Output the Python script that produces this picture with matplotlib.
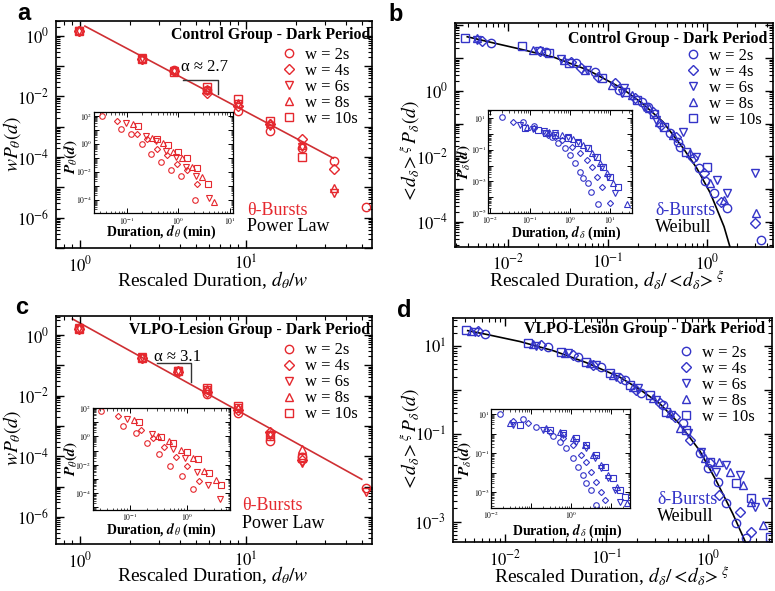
import numpy as np
import matplotlib
matplotlib.use("Agg")
import matplotlib.pyplot as plt
from matplotlib.ticker import FixedLocator, FuncFormatter, LogLocator, NullFormatter

plt.rcParams["font.family"] = "serif"
plt.rcParams["font.serif"] = ["Liberation Serif", "DejaVu Serif"]
plt.rcParams["mathtext.fontset"] = "stix"

RED = "#e5282e"
RED_LINE = "#cf2f33"
BLUE = "#3434c8"

w_labels = ["w = 2s", "w = 4s", "w = 6s", "w = 8s", "w = 10s"]
markers = ["o", "D", "v", "^", "s"]

# ---- panel a: theta bursts, control group (rescaled) ----
a_bins = [0.98, 2.35, 3.7, 5.8, 9.0, 13.9, 21.8, 33.9, 52.8]
a_y = [
    [1.5, 0.17, 0.075, 0.016, 0.0032, 7.4e-4, 2.0e-4, 7.7e-5, 2.3e-6],
    [1.45, 0.17, 0.068, 0.013, 0.0050, 1.2e-3, 4.0e-4, 4.1e-5],
    [1.5, 0.18, 0.070, 0.015, 0.0055, 1.1e-3, 2.2e-4, 6.7e-6],
    [1.55, 0.18, 0.072, 0.017, 0.0063, 1.3e-3, 2.6e-4, 9.3e-6],
    [1.4, 0.17, 0.065, 0.020, 0.0081, 1.5e-3, 1.04e-4],
]
a_fit_x = [1.07, 33.6]
a_fit_y = [2.1, 9.2e-5]
# inset a (raw durations, minutes)
a_in_x = [
    [0.033, 0.078, 0.123, 0.193, 0.30, 0.46, 0.73, 1.13, 2.1],
    [0.065, 0.157, 0.247, 0.387, 0.60, 0.93, 1.45, 2.26],
    [0.098, 0.235, 0.37, 0.58, 0.90, 1.39, 2.18, 3.9],
    [0.131, 0.313, 0.493, 0.773, 1.2, 1.85, 2.9, 5.0],
    [0.163, 0.39, 0.617, 0.967, 1.5, 2.32, 3.8],
]
a_in_y = [
    [95, 10.7, 4.7, 1.0, 0.2, 0.047, 0.0126, 0.0049, 9e-5],
    [46, 5.4, 2.1, 0.41, 0.158, 0.038, 0.0126, 1.3e-3],
    [31.5, 3.8, 1.47, 0.315, 0.116, 0.023, 4.6e-3, 1.2e-4],
    [24.4, 2.8, 1.13, 0.27, 0.099, 0.020, 4.1e-3, 7e-5],
    [17.6, 2.1, 0.82, 0.25, 0.10, 0.019, 1.3e-3],
]

# ---- panel c: theta bursts, VLPO-lesion group ----
c_bins = [0.98, 2.35, 3.9, 5.8, 9.0, 13.9, 21.8, 52.8]
c_y = [
    [1.66, 0.178, 0.065, 0.011, 0.0026, 3.2e-4, 9.5e-5, 8.7e-6],
    [1.6, 0.17, 0.062, 0.013, 0.0033, 6.4e-4, 7.5e-5],
    [1.65, 0.18, 0.066, 0.015, 0.0038, 5.0e-4, 5.8e-5, 6.4e-6],
    [1.7, 0.18, 0.068, 0.017, 0.0040, 5.5e-4, 1.7e-4],
    [1.6, 0.17, 0.064, 0.018, 0.0045, 4.5e-4, 8.5e-5],
]
c_fit_x = [0.90, 49.8]
c_fit_y = [3.37, 1.73e-5]
c_in_x = [
    [0.031, 0.076, 0.126, 0.2, 0.325, 0.51, 0.84, 1.31],
    [0.061, 0.156, 0.251, 0.398, 0.64, 1.03, 1.65],
    [0.0897, 0.241, 0.58, 0.93, 1.5, 2.4, 3.87],
    [0.118, 0.308, 0.493, 0.79, 1.28, 2.02, 3.25],
    [0.146, 0.352, 0.58, 1.0, 1.56, 2.47, 4.03],
]
c_in_y = [
    [61, 5.7, 1.65, 0.33, 0.057, 0.0079, 1.6e-3, 2e-4],
    [27, 2.7, 0.81, 0.19, 0.037, 8.3e-3, 7.6e-4],
    [16.8, 1.4, 0.123, 0.032, 3.2e-3, 3.8e-4, 3.9e-5],
    [14.3, 1.12, 0.5, 0.115, 0.029, 3.6e-3, 8.5e-4],
    [10.8, 0.86, 0.36, 0.083, 0.025, 2.5e-3, 3.8e-4],
]

# ---- panel b: delta bursts, control group ----
b_x = [
    [0.0067, 0.0238, 0.0483, 0.0744, 0.129, 0.224, 0.252, 0.42, 0.51, 0.53, 0.82, 0.96, 1.17, 1.6, 3.5],
    [0.0055, 0.021, 0.043, 0.0544, 0.0808, 0.119, 0.19, 0.284, 0.345, 0.49, 0.73, 0.93, 1.37, 3.0],
    [0.0049, 0.0203, 0.034, 0.0626, 0.14, 0.145, 0.233, 0.307, 0.577, 0.78, 1.27, 1.6, 3.0],
    [0.0049, 0.018, 0.0366, 0.0588, 0.11, 0.177, 0.262, 0.33, 0.45, 0.67, 1.08, 1.48, 3.1],
    [0.00373, 0.0137, 0.0257, 0.0413, 0.0874, 0.151, 0.199, 0.295, 0.37, 0.62, 1.0],
]
b_y = [
    [29, 15.5, 7.2, 3.8, 1.05, 0.46, 0.31, 0.05, 0.028, 0.0195, 4.3e-3, 1.7e-3, 7.4e-4, 2.6e-4, 2.8e-5],
    [33.6, 16, 7.7, 4.8, 2.7, 1.7, 0.585, 0.23, 0.09, 0.039, 8.6e-3, 3e-3, 4.1e-4, 8.9e-5],
    [36, 16.3, 9.1, 4.3, 0.83, 1.18, 0.325, 0.127, 0.056, 9.6e-3, 1.9e-3, 7.4e-4, 3.0e-3],
    [40, 17.5, 8.6, 4.3, 1.5, 0.74, 0.29, 0.113, 0.044, 0.0122, 1.5e-3, 4.6e-4, 1.8e-4],
    [40, 23, 14.5, 6.9, 2.4, 0.93, 0.52, 0.2, 0.08, 0.0137, 4.8e-3],
]
b_fit_x = [0.00389, 0.00702, 0.0132, 0.029, 0.0636, 0.14, 0.224, 0.36, 0.577, 0.789, 1.08, 1.48, 1.73]
b_fit_y = [44.6, 29.2, 18.8, 10.5, 4.28, 1.18, 0.41, 0.113, 0.0174, 4.3e-3, 7.4e-4, 7.1e-5, 1.4e-5]
b_in_x = [
    [0.0196, 0.068, 0.126, 0.237, 0.348, 0.51, 0.75, 1.0, 1.33, 1.78, 2.15, 2.87, 3.35, 4.9],
    [0.038, 0.126, 0.287, 0.42, 0.62, 1.1, 1.78, 2.61, 3.48, 4.64, 6.2, 10],
    [0.056, 0.12, 0.22, 0.42, 0.91, 1.61, 2.61, 4.2, 6.2, 9.1, 13.3],
    [0.083, 0.29, 0.62, 1.21, 2.15, 3.48, 5.6, 8.3, 12.1, 26],
    [0.075, 0.16, 0.25, 0.42, 0.91, 1.61, 2.87, 4.64, 6.8, 10, 16.2],
]
b_in_y = [
    [11.5, 6.1, 3.2, 1.11, 0.62, 0.28, 0.124, 0.047, 0.0139, 4.1e-3, 1.55e-3, 7.4e-4, 2.2e-4, 3.5e-5],
    [6.1, 2.5, 0.87, 0.62, 0.42, 0.16, 0.06, 0.0226, 8.5e-3, 1.96e-3, 4.6e-4, 4.4e-5],
    [3.76, 2.2, 1.5, 1.11, 0.68, 0.33, 0.124, 0.036, 8.5e-3, 1.96e-3, 1.7e-4],
    [2.7, 1.4, 0.87, 0.47, 0.2, 0.06, 0.0139, 3.2e-3, 7.4e-4, 3.6e-5],
    [2.3, 1.8, 1.2, 0.87, 0.54, 0.28, 0.124, 0.036, 8.5e-3, 1.96e-3, 4.6e-4],
]

# ---- panel d: delta bursts, VLPO-lesion group ----
d_x = [
    [0.0063, 0.02655, 0.0524, 0.0889, 0.151, 0.22, 0.36, 0.567, 0.828, 1.0, 1.26, 1.51, 1.9, 2.38],
    [0.00542, 0.0228, 0.0468, 0.0736, 0.135, 0.197, 0.334, 0.47, 0.66, 1.04, 1.30, 2.05, 2.67],
    [0.00503, 0.0201, 0.0418, 0.0794, 0.125, 0.204, 0.31, 0.435, 0.635, 0.859, 1.21, 1.51, 2.05, 2.88, 3.75],
    [0.00466, 0.0189, 0.0387, 0.0682, 0.1159, 0.182, 0.287, 0.42, 0.526, 0.927, 1.30, 1.64, 2.21, 2.67, 3.48],
    [0.00416, 0.0169, 0.0359, 0.0632, 0.1076, 0.169, 0.267, 0.388, 0.611, 1.04, 1.9, 2.67, 4.05],
]
d_y = [
    [19.0, 9.9, 5.85, 3.45, 1.72, 0.85, 0.46, 0.176, 0.0362, 0.0164, 8.1e-3, 2.6e-3, 9.1e-4, 4.1e-4],
    [22.6, 10.8, 6.4, 3.78, 1.88, 1.01, 0.5, 0.248, 0.073, 0.0214, 4.0e-3, 1.67e-3, 5.8e-4],
    [21.8, 10.4, 7.0, 3.78, 2.04, 1.11, 0.6, 0.272, 0.104, 0.0394, 0.0137, 0.0195, 0.0116, 2.2e-3, 2.8e-3],
    [22.6, 11.2, 7.0, 4.13, 2.23, 1.21, 0.65, 0.297, 0.135, 0.0279, 0.0233, 0.0137, 6.8e-3, 2.8e-3, 8.3e-4],
    [23.8, 11.8, 7.36, 4.5, 2.44, 1.32, 0.78, 0.324, 0.123, 0.0233, 7.5e-3, 3.4e-3, 4.5e-4],
]
d_fit_x = [0.0043, 0.0065, 0.014, 0.03, 0.063, 0.135, 0.212, 0.334, 0.526, 0.828, 1.21, 1.76, 2.35]
d_fit_y = [23, 19, 13, 8.0, 4.3, 2.0, 1.05, 0.5, 0.17, 0.042, 8.5e-3, 1.5e-3, 3.35e-4]
d_in_x = [
    [0.0162, 0.062, 0.133, 0.35, 0.51, 0.75, 1.1, 1.47, 1.96, 2.37, 3.16, 4.2],
    [0.035, 0.083, 0.29, 0.62, 1.1, 1.78, 2.37, 3.16, 4.2, 5.6, 6.8],
    [0.035, 0.196, 0.62, 1.33, 2.37, 3.83, 5.6, 8.3, 12.1, 16.6],
    [0.029, 0.237, 0.51, 1.1, 2.2, 3.55, 5.6, 8.3, 13.6, 24],
    [0.051, 0.29, 0.62, 1.33, 2.37, 4.2, 6.8, 11.2, 16.6, 22],
]
d_in_y = [
    [10, 5.6, 2.25, 0.78, 0.39, 0.178, 0.055, 0.0205, 7.7e-3, 2.9e-3, 1.3e-3, 2.3e-4],
    [4.4, 3.3, 1.16, 0.58, 0.26, 0.081, 0.037, 0.0114, 3.5e-3, 1.1e-3, 4.1e-4],
    [2.75, 1.5, 0.85, 0.39, 0.178, 0.055, 0.017, 5.3e-3, 1.3e-3, 3.4e-4],
    [3.6, 1.93, 1.26, 0.58, 0.26, 0.081, 0.025, 7.7e-3, 1.96e-3, 2.8e-4],
    [2.75, 1.5, 1.03, 0.58, 0.26, 0.081, 0.0205, 5.3e-3, 1.3e-3, 6e-4],
]


def decade_ticks(axis, lo, hi, labeled):
    axis.set_major_locator(FixedLocator([10.0 ** e for e in range(lo, hi + 1)]))
    axis.set_major_formatter(FuncFormatter(
        lambda v, p: r"$10^{%d}$" % round(np.log10(v)) if round(np.log10(v)) in labeled else ""))
    axis.set_minor_locator(LogLocator(base=10, subs=np.arange(2, 10), numticks=60))
    axis.set_minor_formatter(NullFormatter())


def style(ax, xl, yl, xt, yt, fs, big=True):
    ax.set_xscale("log")
    ax.set_yscale("log")
    ax.set_xlim(*xl)
    ax.set_ylim(*yl)
    decade_ticks(ax.xaxis, *xt)
    decade_ticks(ax.yaxis, *yt)
    ax.tick_params(which="both", direction="in", top=True, right=True)
    if big:
        ax.tick_params(which="major", length=6, width=1, labelsize=fs, pad=5)
        ax.tick_params(which="minor", length=3, width=0.8)
        lw = 1.2
    else:
        ax.tick_params(which="major", length=3.5, width=0.7, labelsize=fs, pad=1.2)
        ax.tick_params(which="minor", length=1.8, width=0.5)
        lw = 0.9
    for s in ax.spines.values():
        s.set_linewidth(lw)


def draw_series(ax, xs, ys, color, ms, mew, with_labels):
    for i in range(len(xs)):
        size = ms * 0.78 if markers[i] == "D" else ms
        ax.plot(xs[i], ys[i], ls="none", marker=markers[i], ms=size, mfc="none",
                mec=color, mew=mew, label=w_labels[i] if with_labels else None)


fig = plt.figure(figsize=(7.75, 5.91), dpi=100)

b_ylab = r"${<}\!d_{\delta}\!{>}^{\xi}\,P_{\delta}(d)$"
b_xlab = r"Rescaled Duration, $d_{\delta}/{<}\!d_{\delta}\!{>}^{\xi}$"

panels = [
    dict(key="a", rect=[0.0723, 0.5804, 0.4077, 0.3841], color=RED,
         xs=[a_bins[:len(y)] for y in a_y], ys=a_y, fitx=a_fit_x, fity=a_fit_y, fitc=RED_LINE,
         xl=(0.717, 57.4), yl=(1e-7, 3.1), xt=(-1, 2, [0, 1]), yt=(-7, 1, [0, -2, -4, -6]),
         title="Control Group - Dark Period", tx=0.995, ty=0.938, lx=0.715, ly=0.884,
         ylab=r"$wP_{\theta}(d)$", ylc=(-0.138, 0.46),
         xlab=r"Rescaled Duration, $d_{\theta}/w$", xlc=(0.497, -0.141),
         b1="θ-Bursts", b2="Power Law", bx=0.604, by=(0.167, 0.094),
         inrect=[0.1213, 0.6388, 0.1787, 0.1717], inx=a_in_x, iny=a_in_y,
         inxl=(0.023, 11.3), inyl=(1e-5, 190), inxt=(-2, 1, [-1, 0, 1]), inyt=(-5, 2, [2, 0, -2, -4]),
         inylab=r"$\mathbfit{P}_{\theta}\mathbf{(}\mathbfit{d}\mathbf{)}$", inylc=(-0.17, 0.557),
         inxlab=r"Duration, $\mathbfit{d}_{\theta}$ (min)", inxlc=(0.484, -0.19),
         letter=(0.031, 0.978)),
    dict(key="b", rect=[0.5871, 0.5826, 0.41, 0.378], color=BLUE,
         xs=b_x, ys=b_y, fitx=b_fit_x, fity=b_fit_y, fitc="black",
         xl=(0.00293, 4.57), yl=(1.73e-5, 115), xt=(-3, 0, [-2, -1, 0]), yt=(-5, 2, [0, -2, -4]),
         title="Control Group - Dark Period", tx=0.982, ty=0.93, lx=0.725, ly=0.888,
         ylab=b_ylab, ylc=(-0.142, 0.424),
         xlab=b_xlab, xlc=(0.477, -0.148),
         b1="δ-Bursts", b2="Weibull", bx=0.63, by=(0.164, 0.088),
         inrect=[0.6297, 0.6396, 0.1858, 0.1743], inx=b_in_x, iny=b_in_y,
         inxl=(0.0089, 35.5), inyl=(9.7e-6, 33.7), inxt=(-2, 1, [-2, -1, 0, 1]), inyt=(-5, 1, [1, -1, -3, -5]),
         inylab=r"$\mathbfit{P}_{\delta}\mathbf{(}\mathbfit{d}\mathbf{)}$", inylc=(-0.17, 0.495),
         inxlab=r"Duration, $\mathbfit{d}_{\delta}$ (min)", inxlc=(0.546, -0.2),
         letter=(0.511, 0.976)),
    dict(key="c", rect=[0.0723, 0.079, 0.4077, 0.3863], color=RED,
         xs=[c_bins[:len(y)] for y in c_y], ys=c_y, fitx=c_fit_x, fity=c_fit_y, fitc=RED_LINE,
         xl=(0.717, 57.4), yl=(1.24e-7, 4.2), xt=(-1, 2, [0, 1]), yt=(-7, 1, [0, -2, -4, -6]),
         title="VLPO-Lesion Group - Dark Period", tx=0.995, ty=0.939, lx=0.715, ly=0.884,
         ylab=r"$wP_{\theta}(d)$", ylc=(-0.138, 0.466),
         xlab=r"Rescaled Duration, $d_{\theta}/w$", xlc=(0.497, -0.134),
         b1="θ-Bursts", b2="Power Law", bx=0.59, by=(0.169, 0.092),
         inrect=[0.1196, 0.137, 0.1772, 0.1731], inx=c_in_x, iny=c_in_y,
         inxl=(0.022, 5.8), inyl=(6.6e-6, 105), inxt=(-2, 0, [-1, 0]), inyt=(-5, 2, [2, 0, -2, -4]),
         inylab=r"$\mathbfit{P}_{\theta}\mathbf{(}\mathbfit{d}\mathbf{)}$", inylc=(-0.165, 0.503),
         inxlab=r"Duration, $\mathbfit{d}_{\theta}$ (min)", inxlc=(0.5, -0.2),
         letter=(0.028, 0.4805)),
    dict(key="d", rect=[0.5849, 0.0824, 0.4108, 0.379], color=BLUE,
         xs=d_x, ys=d_y, fitx=d_fit_x, fity=d_fit_y, fitc="black",
         xl=(0.0031, 4.25), yl=(3.35e-4, 44), xt=(-3, 0, [-2, -1, 0]), yt=(-4, 1, [1, -1, -3]),
         title="VLPO-Lesion Group - Dark Period", tx=0.979, ty=0.952, lx=0.708, ly=0.88,
         ylab=b_ylab, ylc=(-0.136, 0.457),
         xlab=b_xlab, xlc=(0.497, -0.15),
         b1="δ-Bursts", b2="Weibull", bx=0.64, by=(0.189, 0.113),
         inrect=[0.6339, 0.1399, 0.1786, 0.168], inx=d_in_x, iny=d_in_y,
         inxl=(0.01, 28.8), inyl=(1.55e-4, 18), inxt=(-2, 1, [-2, 0]), inyt=(-4, 1, [1, -1, -3]),
         inylab=r"$\mathbfit{P}_{\delta}\mathbf{(}\mathbfit{d}\mathbf{)}$", inylc=(-0.19, 0.5),
         inxlab=r"Duration, $\mathbfit{d}_{\delta}$ (min)", inxlc=(0.547, -0.23),
         letter=(0.521, 0.474)),
]

for p in panels:
    ax = fig.add_axes(p["rect"])
    ax.plot(p["fitx"], p["fity"], color=p["fitc"], lw=1.2, zorder=1)
    draw_series(ax, p["xs"], p["ys"], p["color"], 6, 1.0, True)
    style(ax, p["xl"], p["yl"], p["xt"], p["yt"], 12)
    ax.set_ylabel(p["ylab"], fontsize=14)
    ax.yaxis.set_label_coords(*p["ylc"])
    ax.yaxis.label.set_va("center")
    ax.set_xlabel(p["xlab"], fontsize=14)
    ax.xaxis.set_label_coords(*p["xlc"])
    ax.xaxis.label.set_va("center")

    ax.text(p["tx"], p["ty"], p["title"], transform=ax.transAxes, ha="right", va="center",
            fontsize=11.4, fontweight="bold")
    ax.legend(loc="upper left", bbox_to_anchor=(p["lx"], p["ly"]), frameon=False, fontsize=12,
              handlelength=0.9, handletextpad=0.5, labelspacing=0.0, borderpad=0, borderaxespad=0)
    ax.text(p["bx"], p["by"][0], p["b1"], transform=ax.transAxes, ha="left", va="center",
            fontsize=13, color=p["color"])
    ax.text(p["bx"], p["by"][1], p["b2"], transform=ax.transAxes, ha="left", va="center",
            fontsize=13, color="black")

    if p["key"] == "a":
        ax.plot([4.19, 6.81, 6.81], [0.0353, 0.0353, 0.0122], color="#333333", lw=1.0)
        ax.text(5.66, 0.095, "α ≈ 2.7", ha="center", va="center", fontsize=12)
    if p["key"] == "c":
        ax.plot([2.9, 4.64, 4.64], [0.116, 0.116, 0.0275], color="#333333", lw=1.0)
        ax.text(3.84, 0.19, "α ≈ 3.1", ha="center", va="center", fontsize=12)

    ins = fig.add_axes(p["inrect"])
    draw_series(ins, p["inx"], p["iny"], p["color"], 4, 0.8, False)
    style(ins, p["inxl"], p["inyl"], p["inxt"], p["inyt"], 5.5, big=False)
    ins.set_ylabel(p["inylab"], fontsize=11)
    ins.yaxis.set_label_coords(*p["inylc"])
    ins.yaxis.label.set_va("center")
    ins.set_xlabel(p["inxlab"], fontsize=10, fontweight="bold")
    ins.xaxis.set_label_coords(*p["inxlc"])
    ins.xaxis.label.set_va("center")

    fig.text(p["letter"][0], p["letter"][1], p["key"], ha="center", va="center",
             fontsize=17, fontweight="bold", family="Liberation Sans")

fig.savefig("out.png", dpi=100)
